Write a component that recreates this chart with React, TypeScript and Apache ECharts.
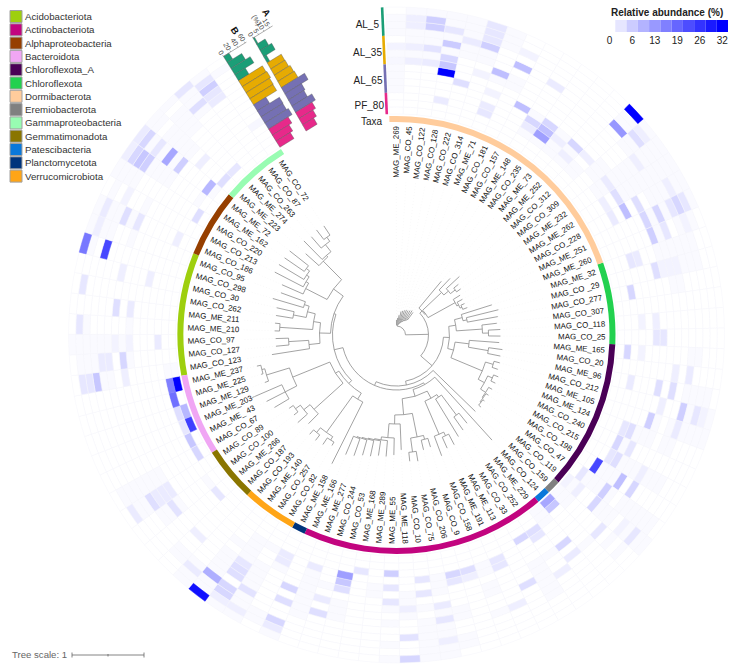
import React, { useEffect, useRef } from "react";
import * as echarts from "echarts";

const FONT = "Liberation Sans";

const leafNames = [
  "MAG_ME_269","MAG_CO_45","MAG_CO_122","MAG_CO_128","MAG_CO_222","MAG_CO_314","MAG_ME_71","MAG_CO_181","MAG_CO_157","MAG_ME_148",
  "MAG_CO_235","MAG_ME_73","MAG_ME_252","MAG_CO_312","MAG_CO_309","MAG_ME_232","MAG_ME_262","MAG_CO_228","MAG_ME_251","MAG_ME_260",
  "MAG_ME_32","MAG_CO _29","MAG_CO_277","MAG_CO_307","MAG_CO_118","MAG_CO_25","MAG_ME_165","MAG_CO_20","MAG_ME_96","MAG_CO_212",
  "MAG_ME_105","MAG_ME_124","MAG_CO_240","MAG_CO_215","MAG_CO_198","MAG_CO_47","MAG_CO_119","MAG_CO_159","MAG_CO_124","MAG_ME_229",
  "MAG_CO_252","MAG_CO_33","MAG_ME_113","MAG_ME_191","MAG_CO_158","MAG_CO_9","MAG_CO_206","MAG_CO_75","MAG_CO_10","MAG_ME_118",
  "MAG_ME_55","MAG_ME_289","MAG_ME_168","MAG_CO_53","MAG_CO_244","MAG_ME_277","MAG_ME_166","MAG_ME_158","MAG_CO_82","MAG_CO_257",
  "MAG_ME_140","MAG_CO_193","MAG_CO_187","MAG_ME_266","MAG_CO_100","MAG_CO_89","MAG_CO_67","MAG_ME_ 43","MAG_ME_203","MAG_ME_129",
  "MAG_ME_225","MAG_ME_237","MAG_CO_123","MAG_CO_127","MAG_CO_97","MAG_ME_210","MAG_ME_211","MAG_CO_262","MAG_CO_30","MAG_CO_298",
  "MAG_CO_95","MAG_CO_186","MAG_CO_213","MAG_CO_220","MAG_ME_162","MAG_ME_72","MAG_ME_223","MAG_ME_274","MAG_CO_263","MAG_CO_87","MAG_CO_72",
];

const phylumNames = ["Acidobacteriota","Actinobacteriota","Alphaproteobacteria","Bacteroidota","Chloroflexota_A","Chloroflexota","Dormibacterota","Eremiobacterota","Gammaproteobacteria","Gemmatimonadota","Patescibacteria","Planctomycetota","Verrucomicrobiota"];
const phylumColors = ["#9ecf0e","#c2047f","#963f00","#f0a6f4","#4a0056","#22d14f","#ffcc9c","#808080","#98fcb2","#8a7500","#0a78da","#00347c","#ffa516"];
// first and last leaf (0-based, inclusive) of each phylum on the ring
const phylumFirst = [72,39,81,66,26,20,0,37,86,62,38,57,58];
const phylumLast = [80,56,85,71,36,25,19,37,90,65,38,57,61];

const sampleNames = ["AL_5","AL_35","AL_65","PF_80"];
const sampleColors = ["#1b9e77","#e6ab02","#7570b3","#e7298a"];
const sampleTopRows = [14,10,6,2];
const sampleBottomRows = [11,7,3,0];

// heatmap cells per ring: [leaf, value]; ring 0 is the innermost
const ring14 = [[5,3],[13,32],[49,5],[60,30],[79,17],[84,2],[85,2.5],[88,3]];
const ring13 = [[1,2],[2,6],[5,3],[14,2],[18,3],[29,1.5],[56,2.5],[58,2],[59,2],[65,2.5],[72,3],[75,3],[77,3],[80,2],[81,2.5],[84,5],[85,5],[89,3]];
const ring12 = [[1,2],[2,6],[3,3],[5,3],[7,1.5],[14,4],[17,2],[18,5],[19,1.5],[29,3],[36,3],[47,2],[56,5],[59,5],[61,2.5],[72,3],[84,7],[89,6]];
const ring11 = [[4,2.5],[5,6],[13,13],[18,3],[49,3.5],[59,5],[60,10],[72,7],[79,23],[82,1.5],[84,6],[85,3],[88,4],[89,3]];
const ring10 = [[3,6.5],[7,8],[9,2.5],[15,2],[27,2.5],[29,6],[30,2.5],[36,1.5],[43,2],[58,3.5],[65,4],[73,2.5],[81,4],[89,2.5]];
const ring9 = [[0,1.5],[1,2],[2,3.5],[18,5],[19,3],[21,1.5],[40,2],[47,3],[54,4],[56,4],[59,4],[65,2.5],[73,2.5],[85,11]];
const ring8 = [[3,5],[6,8],[21,1.5],[27,2],[28,4],[33,2],[34,5],[37,3],[39,2.5],[42,4],[59,4],[62,2],[64,3.5],[65,2.5],[74,1.5],[76,4],[78,2],[81,3]];
const ring7 = [[0,1],[1,2],[2,2.5],[3,7],[5,1.5],[17,4],[18,5],[19,6],[21,1.5],[29,2],[47,2.5],[49,2],[54,2.5],[56,5],[59,3],[65,2.5],[72,2],[73,5],[85,6]];
const ring6 = [[3,32],[21,4],[25,3],[28,4],[30,6],[34,8],[39,5],[50,3],[74,1.5],[76,2.5]];
const ring5 = [[4,4],[6,1.5],[8,8],[10,5],[12,5],[13,2],[15,2.5],[16,4],[17,8],[24,2],[25,3],[32,3],[35,6],[36,5],[48,3],[53,4],[86,2]];
const ring4 = [[9,5],[10,8],[11,2],[20,2.5],[31,4],[33,4],[43,3],[45,2],[46,3],[50,3],[53,7],[57,2.5],[78,2],[90,1]];
const ring3 = [[6,2.5],[9,2.5],[10,12],[12,2],[16,2],[17,2.5],[20,3],[24,1.5],[26,1.5],[31,3],[32,5],[33,3],[40,3],[43,3],[45,4],[46,5],[48,3],[53,12],[55,2.5],[57,2.5]];
const ring2 = [[3,2.5],[6,3],[22,5],[28,2.5],[34,23],[36,2],[40,4],[41,5],[50,6],[52,3],[63,3],[74,2.5],[81,2],[85,9]];
const ring1 = [[26,5],[35,3],[38,7],[66,5],[67,7],[68,3],[69,4],[70,18],[71,16],[83,4],[86,4],[87,3]];
const ring0 = [[36,1.5],[38,11],[68,24],[69,9],[71,32]];
const heatRings = [ring0,ring1,ring2,ring3,ring4,ring5,ring6,ring7,ring8,ring9,ring10,ring11,ring12,ring13,ring14];

// leaves whose cell shows only the palest tint, per ring (value well under 1)
const paleRings = [
  [37,39,72],
  [36,37,39,72,85],
  [9,10,11,12,13,35,37,39,64,84],
  [0,11,13,15,34,35,44,47,58,59],
  [0,12,14,15,32,34,35,44,47,51,55,59],
  [0,9,11,14,31,33,34,47,49,51,54,55,57,59,60],
  [0,14,15,16,31,33,35,36,40,41,44,49,55,58,59,73,75],
  [6,7,15,16,20,30,31,33,36,41,44,48,50,53,55,58,60,64,66,74,84,86],
  [0,1,2,7,15,16,18,19,20,22,35,36,38,41,46,47,49,53,55,58,60,66,80,82,84,85,86],
  [3,4,5,15,16,17,20,22,30,31,33,35,41,46,48,50,53,55,58,60,64,66,72,74,81,84,86,87],
  [1,2,4,5,14,16,17,18,20,21,26,28,31,33,35,37,41,44,47,48,55,60,64,66,72,74,84,85,86,87,88],
  [0,1,2,3,14,15,16,17,19,20,21,26,28,29,30,33,35,36,41,47,48,58,61,62,65,66,73,74,80,81,83,86,87],
  [0,4,6,13,15,16,20,21,28,30,35,37,46,48,50,57,58,60,62,65,66,73,74,75,80,81,83,85,87,88],
  [0,3,4,6,13,15,16,17,19,28,30,35,36,46,47,48,57,60,61,66,73,74,79,82,83,86,88,90],
  [1,2,3,4,6,14,15,16,17,18,29,30,36,47,48,50,56,58,59,61,74,80,81,83,86,87,89],
];
const PALE_VALUE = 0.6;

// bars from the outermost row inwards
const barsA = [1.3,7.7,10.4,2.4,12.7,13,14.4,15,21,15,14,18,15,12.6,10];
const barsB = [15,40,53,29,66,68,65,64,34,61,60,65,54,46,39];
const ticksA = [0,5,10,15];
const ticksB = [0,20,40,60];

const legendTicks = ["0","","6","","13","","19","","26","","32"];
const legendColors = ["#ffffff","#e6e6ff","#ccccff","#b3b3ff","#9999ff","#8080ff","#6666ff","#4d4dff","#3333ff","#1a1aff","#0000ff"];

// the tree: a node is [node radius, ...children], a leaf is its tip radius
const fanTree = [10,15,[11,17,[12,20,[13,24,[14,25,[15,26,[16,27,[17,27,[18,28,[19,29,28]]]]]]]]]];
const dormiTree = [35,70,[36,[62,78,[68,86,[74,80,79]]],[67,75,[69,75,[71,75,76]]]]];
const chloroTree = [60,[68,100,[72,105,103]],[86,101,[92,104,104]]];
const chloroATree = [59,[73,103,[93,107,106]],[93,[101,107,107],[100,[105,110,110],[106,110,[107,110,[108,110,111]]]]]];
const actinoTree = [64,
  [72,[75,[100,113,116],119],[108,[112,124,124],129]],
  [80,[104,[108,117,118],[118,128,127]],[89,115,[103,120,[106,122,[107,122,[108,124,[109,125,[110,128,130]]]]]]]],
];
const lowerLeftTree = [68,
  [75,144,[120,[124,128,132],[126,133,132]]],
  [72,[111,125,[119,132,[125,130,130]]],[112,[125,142,146,158],[136,140,[139,141,143]]]],
];
const upperLeftTree = [66,
  [77,[88,126,[108,121,121]],[84,[117,122,122],[92,[105,122,123],[97,129,123]]]],
  [78,[102,125,[105,137,[108,137,[112,136,136]]]],[104,122,[106,132,[115,130,[120,132,131]]]]],
];
const fullTree = [9,fanTree,[32,dormiTree,[47,[53,chloroTree,chloroATree],[51,110,[55,[57,142,actinoTree],[64,lowerLeftTree,upperLeftTree]]]]]];

const CX = 396.5, CY = 335, OUTER = 328;
const LEAF_DEG = 3.627, N = leafNames.length;
const RING_IN = 221, ROW_H = 7.13, TAXA_IN = 213, TAXA_OUT = 219, LABEL_R = 209;
const toColor = (v: number) => {
  const t = Math.min(v / 32, 1);
  const c = Math.round(255 * (1 - t));
  return `rgb(${c},${c},255)`;
};

function buildSegments() {
  const segs: number[][] = [];
  let next = 0;
  const walk = (n: any, pr: number): number => {
    if (typeof n === "number") {
      const a = next + 0.5; next += 1;
      segs.push([0, pr, a, n, a]);
      segs.push([2, n, a, LABEL_R - 56, a]);
      return a;
    }
    const r = n[0];
    const angles = n.slice(1).map((c: any) => walk(c, r));
    const first = angles[0], last = angles[angles.length - 1];
    segs.push([1, r, first, r, last]);
    const mid = (first + last) / 2;
    if (pr > 0) segs.push([0, pr, mid, r, mid]);
    return mid;
  };
  walk(fullTree, 0);
  return segs;
}

const polarAngle = (api: any, a: number) => {
  const p = api.coord([OUTER, a]);
  return Math.atan2(p[1] - CY, p[0] - CX);
};
const polarR = (api: any, r: number) => {
  const p = api.coord([r, 10]);
  return Math.hypot(p[0] - CX, p[1] - CY);
};
const sector = (api: any, r0: number, r: number, a0: number, a1: number) => {
  const s = polarAngle(api, a0);
  return { cx: CX, cy: CY, r0: polarR(api, r0), r: polarR(api, r), startAngle: s, endAngle: s + ((a1 - a0) * LEAF_DEG * Math.PI) / 180, clockwise: true };
};

function buildOption() {
  const heatData: number[][] = [];
  heatRings.forEach((cells, row) => {
    const lookup = new Map(cells.map((c) => [c[0], c[1]]));
    paleRings[row].forEach((col) => { if (!lookup.has(col)) lookup.set(col, PALE_VALUE); });
    for (let col = 0; col < N; col++) heatData.push([col, row, lookup.get(col) || 0]);
  });
  const perp = [Math.cos((31.8 * Math.PI) / 180), -Math.sin((31.8 * Math.PI) / 180)];
  const rad = [-Math.sin((31.8 * Math.PI) / 180), -Math.cos((31.8 * Math.PI) / 180)];
  const rowColor = (row: number) => sampleColors[sampleTopRows.findIndex((t, i) => row <= t && row >= sampleBottomRows[i])];
  const scaleA = 1.3, scaleB = 0.425;
  const tilt = (-58 * Math.PI) / 180;
  // track A sits beside track B and leans a little towards it at its inner end
  const offsetB = () => 0;
  const offsetA = (r: number) => 30.8 + ((r - RING_IN) / (OUTER - RING_IN)) * 4;

  const barsSeries = (vals: number[], scale: number, offset: (r: number) => number) => ({
    type: "custom", coordinateSystem: "polar", silent: true,
    data: vals.map((v, i) => [14 - i, v]),
    renderItem: (_: any, api: any) => {
      const row = api.value(0), v = api.value(1) * scale;
      const r0 = RING_IN + row * ROW_H, r1 = RING_IN + (row + 1) * ROW_H;
      const p0 = api.coord([r0, N]);
      const p1 = api.coord([r1, N]);
      const b0 = [p0[0] + perp[0] * offset(r0), p0[1] + perp[1] * offset(r0)];
      const b1 = [p1[0] + perp[0] * offset(r1), p1[1] + perp[1] * offset(r1)];
      return {
        type: "polygon",
        shape: { points: [b0, b1, [b1[0] + perp[0] * v, b1[1] + perp[1] * v], [b0[0] + perp[0] * v, b0[1] + perp[1] * v]] },
        style: { fill: rowColor(row), stroke: "#555", lineWidth: 0.4 },
      };
    },
  });
  const axisSeries = (ticks: number[], scale: number, offset: (r: number) => number, maxLen: number) => ({
    type: "custom", coordinateSystem: "polar", silent: true,
    data: ticks.map((t) => [t]),
    renderItem: (params: any, api: any) => {
      const t = api.value(0);
      const o = api.coord([OUTER, N]);
      const d = offset(OUTER) + t * scale;
      const px = o[0] + perp[0] * d, py = o[1] + perp[1] * d;
      const children: any[] = [
        { type: "text", x: px + rad[0] * 2.5, y: py + rad[1] * 2.5, rotation: tilt, style: { text: String(t), fontSize: 7, fontFamily: FONT, fill: "#444", textAlign: "right", textVerticalAlign: "middle" } },
        { type: "line", shape: { x1: px, y1: py, x2: px + rad[0] * 1.5, y2: py + rad[1] * 1.5 }, style: { stroke: "#777", lineWidth: 0.6 } },
      ];
      if (params.dataIndex === 0) children.push({ type: "line", shape: { x1: px, y1: py, x2: px + perp[0] * maxLen, y2: py + perp[1] * maxLen }, style: { stroke: "#777", lineWidth: 0.6 } });
      return { type: "group", children };
    },
  });

  const series: any[] = [
    {
      type: "custom", coordinateSystem: "polar", silent: true, data: heatData,
      renderItem: (_: any, api: any) => {
        const col = api.value(0), row = api.value(1), v = api.value(2);
        return {
          type: "sector",
          shape: sector(api, RING_IN + row * ROW_H, RING_IN + (row + 1) * ROW_H, col, col + 1),
          style: { fill: toColor(v), stroke: v > 8 ? toColor(v) : "#f5f5fa", lineWidth: 0.5 },
        };
      },
    },
    ...phylumNames.map((name, i) => ({
      name, type: "custom", coordinateSystem: "polar", silent: true,
      itemStyle: { color: phylumColors[i] },
      data: [[phylumFirst[i], phylumLast[i]]],
      renderItem: (_: any, api: any) => ({
        type: "sector",
        shape: sector(api, TAXA_IN, TAXA_OUT, api.value(0), api.value(1) + 1),
        style: { fill: phylumColors[i] },
      }),
    })),
    {
      type: "custom", coordinateSystem: "polar", silent: true, data: leafNames.map((_, i) => [i]),
      renderItem: (params: any, api: any) => {
        const a = api.value(0) + 0.5;
        const p = api.coord([LABEL_R, a]);
        const deg = -1.9 + a * LEAF_DEG;
        const right = deg < 180;
        return {
          type: "text", x: p[0], y: p[1],
          rotation: (((right ? 90 : 270) - deg) * Math.PI) / 180,
          style: { text: leafNames[params.dataIndex], fontSize: 7.9, fontFamily: FONT, fill: "#111", textAlign: right ? "right" : "left", textVerticalAlign: "middle" },
        };
      },
    },
    {
      type: "custom", coordinateSystem: "polar", silent: true, data: buildSegments(),
      renderItem: (_: any, api: any) => {
        const kind = api.value(0), r1 = api.value(1), a1 = api.value(2), r2 = api.value(3), a2 = api.value(4);
        if (kind === 1) {
          const s = polarAngle(api, a1);
          return {
            type: "arc",
            shape: { cx: CX, cy: CY, r: polarR(api, r1), startAngle: s, endAngle: s + ((a2 - a1) * LEAF_DEG * Math.PI) / 180, clockwise: true },
            style: { stroke: "#8c8c8c", lineWidth: 0.8, fill: "none" },
          };
        }
        const p = api.coord([r1, a1]), q = api.coord([r2, a2]);
        return {
          type: "line",
          shape: { x1: p[0], y1: p[1], x2: q[0], y2: q[1] },
          style: kind === 0 ? { stroke: "#8c8c8c", lineWidth: 0.8 } : { stroke: "#f2f2f2", lineWidth: 0.5, lineDash: [1, 2] },
        };
      },
    },
    {
      type: "custom", coordinateSystem: "polar", silent: true, data: sampleNames.map((_, i) => [sampleBottomRows[i], sampleTopRows[i]]),
      renderItem: (params: any, api: any) => {
        const p = api.coord([RING_IN + api.value(0) * ROW_H, -0.17]);
        const q = api.coord([RING_IN + (api.value(1) + 1) * ROW_H, -0.17]);
        return { type: "line", shape: { x1: p[0], y1: p[1], x2: q[0], y2: q[1] }, style: { stroke: sampleColors[params.dataIndex], lineWidth: 2.6 } };
      },
    },
    barsSeries(barsB, scaleB, offsetB),
    barsSeries(barsA, scaleA, offsetA),
    axisSeries(ticksB, scaleB, offsetB, 27),
    axisSeries(ticksA, scaleA, offsetA, 23),
    {
      type: "bar", xAxisIndex: 0, yAxisIndex: 0, barWidth: "100%", silent: true,
      data: legendColors.map((c) => ({ value: 1, itemStyle: { color: c } })),
    },
  ];

  const sampleLabelY = [24, 52, 80.5, 105];
  const sampleLabelX = [379, 382, 382.5, 384];
  const graphic: any[] = [
    ...sampleNames.map((t, i) => ({ type: "text", x: sampleLabelX[i], y: sampleLabelY[i], style: { text: t, font: `10px "${FONT}"`, fill: "#222", textAlign: "right", textVerticalAlign: "middle" } })),
    { type: "text", x: 382, y: 121, style: { text: "Taxa", font: `10px "${FONT}"`, fill: "#222", textAlign: "right", textVerticalAlign: "middle" } },
    { type: "text", x: 12, y: 654.5, style: { text: "Tree scale: 1", font: `9.6px "${FONT}"`, fill: "#666", textVerticalAlign: "middle" } },
    { type: "line", shape: { x1: 72, y1: 655, x2: 144, y2: 655 }, style: { stroke: "#666", lineWidth: 0.8 } },
    { type: "line", shape: { x1: 72, y1: 652.5, x2: 72, y2: 657.5 }, style: { stroke: "#666", lineWidth: 0.8 } },
    { type: "line", shape: { x1: 108, y1: 654, x2: 108, y2: 656.5 }, style: { stroke: "#666", lineWidth: 0.8 } },
    { type: "line", shape: { x1: 144, y1: 652.5, x2: 144, y2: 657.5 }, style: { stroke: "#666", lineWidth: 0.8 } },
    { type: "text", x: 235, y: 30.5, rotation: tilt, style: { text: "B", font: `bold 9.5px "${FONT}"`, fill: "#111", textAlign: "center", textVerticalAlign: "middle" } },
    { type: "text", x: 266.5, y: 12.5, rotation: tilt, style: { text: "A", font: `bold 9.5px "${FONT}"`, fill: "#111", textAlign: "center", textVerticalAlign: "middle" } },
    { type: "text", x: 256.5, y: 20, rotation: tilt, style: { text: "(%)", font: `7px "${FONT}"`, fill: "#444", textAlign: "center", textVerticalAlign: "middle" } },
  ];

  return {
    animation: false,
    backgroundColor: "#ffffff",
    textStyle: { fontFamily: FONT },
    polar: { center: [CX, CY], radius: OUTER },
    angleAxis: { type: "value", min: 0, max: 360 / LEAF_DEG, startAngle: 91.9, clockwise: true, show: false },
    radiusAxis: { type: "value", min: 0, max: OUTER, show: false },
    grid: { left: 604, top: 20, width: 124, height: 12 },
    xAxis: { type: "category", data: legendTicks.map((t, i) => ({ value: `${i}:${t}` })), axisLine: { show: false }, axisTick: { show: false }, axisLabel: { interval: 0, margin: 3, fontSize: 10, color: "#222", formatter: (v: string) => v.split(":")[1] } },
    yAxis: { type: "value", min: 0, max: 1, show: false },
    title: { text: "Relative abundance (%)", left: 611, top: 7, padding: 0, textStyle: { fontFamily: FONT, fontSize: 10, fontWeight: "bold", color: "#222" } },
    legend: {
      orient: "vertical", left: 9.5, top: 10, padding: 0, itemWidth: 12, itemHeight: 12, itemGap: 0.3, selectedMode: false,
      textStyle: { fontFamily: FONT, fontSize: 9.7, color: "#333", padding: [0, 0, 0, -2], lineHeight: 12 },
      data: phylumNames.map((name, i) => ({ name, icon: "rect", itemStyle: { color: phylumColors[i], borderColor: "#a0a0a0", borderWidth: 1 } })),
    },
    graphic,
    series,
  };
}

export default function App() {
  const ref = useRef<HTMLDivElement>(null);
  useEffect(() => {
    const chart = echarts.init(ref.current!, undefined, { renderer: "svg" });
    chart.setOption(buildOption() as any);
    return () => chart.dispose();
  }, []);
  return <div ref={ref} style={{ position: "fixed", left: 0, top: 0, width: 743, height: 672, background: "#fff" }} />;
}
